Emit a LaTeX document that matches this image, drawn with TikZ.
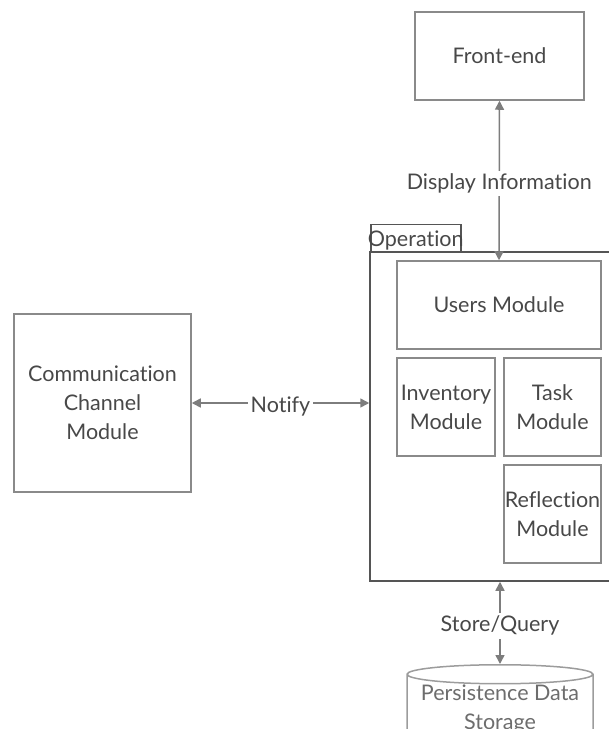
\documentclass[tikz,border=0pt]{standalone}
\usepackage{fontspec}
\setmainfont{Lato}[Ligatures=NoCommon]
\usetikzlibrary{arrows.meta, positioning, shapes.geometric}
\definecolor{boxgray}{RGB}{138,138,138}
\definecolor{framegray}{RGB}{85,85,85}
\definecolor{arrowgray}{RGB}{125,125,125}
\definecolor{textgray}{RGB}{72,72,72}
\newcommand{\labelfont}{\fontsize{21.5}{29}\selectfont}
\tikzset{
  module/.style={draw=boxgray, line width=1.5pt, text=textgray, align=center, inner sep=0pt, font=\labelfont},
  link/.style={arrowgray, line width=1.5pt, {Triangle[length=9pt,width=9pt]}-{Triangle[length=9pt,width=9pt]}},
  linklabel/.style={fill=white, text=textgray, inner sep=3pt, yshift=-3pt, font=\labelfont}
}

\begin{document}
\begin{tikzpicture}[x=1pt, y=-1pt]
    \useasboundingbox (0,0) rectangle (609,729);

    % Front-end
    \node[module, minimum width=169pt, minimum height=88pt] (frontend) at (499.5,56) {Front-end};

    % Operation frame and its tab
    \node[draw=framegray, line width=1.5pt, minimum width=250pt, minimum height=329pt] (opframe) at (495,416.5) {};
    \node[draw=framegray, line width=1.5pt, text=textgray, inner sep=0pt, minimum width=90pt, minimum height=27pt, text height=22pt, text depth=5pt, anchor=south west, font=\labelfont] (optab) at (370,252) {\makebox[90pt]{Operation}};

    % Modules inside Operation
    \node[module, minimum width=204pt, minimum height=88pt] (users) at (499,305) {Users Module};
    \node[module, minimum width=98pt, minimum height=98pt] (inventory) at (446,407) {Inventory\\Module};
    \node[module, minimum width=97pt, minimum height=98pt] (task) at (552.5,407) {Task\\Module};
    \node[module, minimum width=97pt, minimum height=98pt] (reflection) at (552.5,514) {Reflection\\Module};

    % Communication channel
    \node[module, minimum width=177pt, minimum height=178pt] (comm) at (102.5,403) {Communication\\Channel\\Module};

    % Persistence storage
    \node[cylinder, shape border rotate=90, aspect=0.12, draw=boxgray!85, line width=1.5pt, text=textgray!80, align=center, inner sep=0pt, font=\labelfont, minimum width=186pt, minimum height=74pt, anchor=north] (store) at (500,664) {Persistence Data\\Storage};

    % Connectors
    \draw[link] (users.north) -- (frontend.south) node[midway, linklabel] {Display Information};
    \draw[link] (comm.east) -- (comm.east -| opframe.west) node[midway, linklabel] {Notify};
    \draw[link] (store.north |- opframe.south) -- (store.north) node[midway, linklabel] {Store/Query};
\end{tikzpicture}
\end{document}
